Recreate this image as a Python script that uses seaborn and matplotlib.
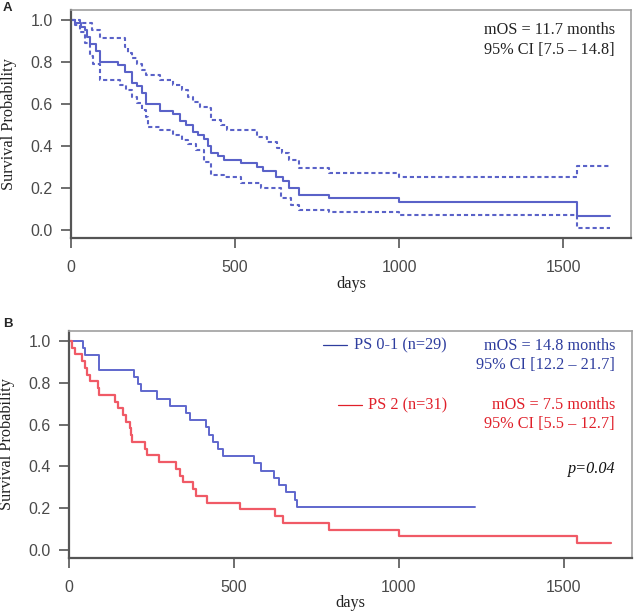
import numpy as np
import pandas as pd
import seaborn as sns
import matplotlib.pyplot as plt

# panel A: all patients, KM estimate with 95% CI
a_days = [0, 12, 30, 43, 50, 58, 75, 88, 144, 164, 185, 200, 215, 230, 271, 311, 332, 352, 372,
          387, 405, 418, 426, 448, 467, 518, 568, 585, 626, 645, 665, 694, 786, 1000, 1541, 1643]
a_surv = [1.0, 0.983, 0.967, 0.95, 0.917, 0.883, 0.85, 0.80, 0.783, 0.75, 0.70, 0.683, 0.65, 0.60,
          0.567, 0.55, 0.517, 0.50, 0.467, 0.45, 0.433, 0.40, 0.367, 0.35, 0.333, 0.317, 0.30,
          0.283, 0.25, 0.233, 0.20, 0.167, 0.15, 0.133, 0.067, 0.067]

up_days = [0, 27, 63, 88, 164, 175, 185, 200, 215, 230, 271, 311, 337, 357, 372, 392, 418, 426,
           456, 476, 568, 598, 629, 644, 665, 694, 786, 1000, 1541, 1643]
up_surv = [1.0, 0.987, 0.95, 0.913, 0.87, 0.84, 0.817, 0.79, 0.76, 0.738, 0.714, 0.69, 0.667,
           0.635, 0.61, 0.587, 0.58, 0.524, 0.50, 0.476, 0.444, 0.42, 0.39, 0.368, 0.333, 0.294,
           0.273, 0.254, 0.306, 0.306]

lo_days = [0, 12, 27, 43, 58, 68, 88, 149, 169, 185, 200, 215, 230, 235, 271, 311, 337, 357, 382,
           405, 426, 467, 518, 579, 640, 670, 694, 786, 1000, 1541, 1643]
lo_surv = [1.0, 0.976, 0.94, 0.89, 0.83, 0.79, 0.714, 0.69, 0.667, 0.635, 0.603, 0.571, 0.54,
           0.49, 0.476, 0.452, 0.43, 0.41, 0.38, 0.325, 0.262, 0.25, 0.222, 0.198, 0.151, 0.119,
           0.095, 0.084, 0.071, 0.011, 0.011]

# panel B: by performance status
blue_days = [0, 43, 47, 91, 198, 210, 218, 268, 305, 356, 366, 416, 424, 436, 451, 467, 562,
             583, 623, 638, 659, 686, 690, 1232]
blue_surv = [1.0, 0.966, 0.931, 0.862, 0.828, 0.793, 0.759, 0.724, 0.690, 0.655, 0.621, 0.586,
             0.552, 0.517, 0.483, 0.448, 0.414, 0.379, 0.345, 0.310, 0.276, 0.241, 0.207, 0.207]

red_days = [0, 8, 18, 38, 48, 55, 63, 88, 91, 139, 149, 164, 174, 184, 187, 190, 230, 235, 273,
            323, 336, 346, 375, 386, 418, 517, 624, 650, 787, 1001, 1541, 1644]
red_surv = [1.0, 0.968, 0.935, 0.903, 0.871, 0.839, 0.806, 0.774, 0.742, 0.710, 0.677, 0.645,
            0.613, 0.581, 0.548, 0.516, 0.484, 0.452, 0.419, 0.387, 0.355, 0.323, 0.290, 0.258,
            0.226, 0.194, 0.161, 0.129, 0.097, 0.065, 0.032, 0.032]

y_ticks = [0.0, 0.2, 0.4, 0.6, 0.8, 1.0]
x_ticks = [0, 500, 1000, 1500]

sns.set_style("white")
plt.rcParams['font.family'] = ['Liberation Serif', 'DejaVu Serif']

A_COL = "#5a62c8"
B_BLUE = "#5f67cd"
B_RED = "#f05a66"
T_BLUE = "#2e3d9e"
T_RED = "#e0202a"

fig = plt.figure(figsize=(6.36, 6.12), dpi=100)
axA = fig.add_axes([71 / 636, 1 - 238 / 612, 560 / 636, 228 / 612])
axB = fig.add_axes([69 / 636, 1 - 558 / 612, 563 / 636, 227 / 612])


def style_axes(ax, lab_x, lab_y):
    ax.set_xlim(0, 1707)
    ax.set_ylim(-0.038, 1.047)
    ax.set_xticks(x_ticks)
    ax.set_yticks(y_ticks)
    ax.set_yticklabels([f"{v:.1f}" for v in y_ticks])
    for lab in ax.get_xticklabels() + ax.get_yticklabels():
        lab.set_family(['Liberation Sans', 'DejaVu Sans'])
    ax.tick_params(axis='both', direction='out', length=7, width=1.2, color='#555555',
                   labelsize=11.5, labelcolor='#4a4a4a', pad=6, left=True, bottom=True)
    ax.tick_params(axis='x', pad=9)
    ax.spines['left'].set_color('#555555')
    ax.spines['bottom'].set_color('#555555')
    ax.spines['left'].set_linewidth(1.6)
    ax.spines['bottom'].set_linewidth(1.6)
    ax.spines['top'].set_color('#a0a0a0')
    ax.spines['right'].set_color('#a0a0a0')
    ax.spines['top'].set_linewidth(1.2)
    ax.spines['right'].set_linewidth(1.2)
    ax.set_xlabel("days", fontsize=11.7, color='#222222')
    ax.set_ylabel("Survival Probability", fontsize=11.7, color='#222222')
    ax.xaxis.set_label_coords(0.5, lab_x)
    ax.yaxis.set_label_coords(lab_y, 0.5)
    ax.xaxis.label.set_va('top')


# ---- panel A
sns.lineplot(x=a_days, y=a_surv, ax=axA, color=A_COL, lw=1.5, drawstyle='steps-post',
             estimator=None)
sns.lineplot(x=up_days, y=up_surv, ax=axA, color=A_COL, lw=1.5, drawstyle='steps-post',
             estimator=None, linestyle=(0, (2, 1.4)))
sns.lineplot(x=lo_days, y=lo_surv, ax=axA, color=A_COL, lw=1.5, drawstyle='steps-post',
             estimator=None, linestyle=(0, (2, 1.4)))
style_axes(axA, -0.165, -0.097)
axA.text(0.971, 0.912, "mOS = 11.7 months", transform=axA.transAxes, ha='right', va='center',
         fontsize=11.7, color='#222222')
axA.text(0.971, 0.825, "95% CI [7.5 \u2013 14.8]", transform=axA.transAxes, ha='right',
         va='center', fontsize=11.7, color='#222222')

# ---- panel B
sns.lineplot(x=blue_days, y=blue_surv, ax=axB, color=B_BLUE, lw=1.4, drawstyle='steps-post',
             estimator=None)
sns.lineplot(x=red_days, y=red_surv, ax=axB, color=B_RED, lw=1.6, drawstyle='steps-post',
             estimator=None)
style_axes(axB, -0.165, -0.096)

# legend keys
axB.plot([0.451, 0.493], [0.940, 0.940], transform=axB.transAxes, color=T_BLUE, lw=0.9)
axB.plot([0.477, 0.520], [0.676, 0.676], transform=axB.transAxes, color=T_RED, lw=0.9)
axB.text(0.671, 0.936, "PS 0-1 (n=29)", transform=axB.transAxes, ha='right', va='center',
         fontsize=11.7, color=T_BLUE)
axB.text(0.671, 0.672, "PS 2 (n=31)", transform=axB.transAxes, ha='right', va='center',
         fontsize=11.7, color=T_RED)
axB.text(0.970, 0.936, "mOS = 14.8 months", transform=axB.transAxes, ha='right', va='center',
         fontsize=11.7, color=T_BLUE)
axB.text(0.970, 0.850, "95% CI [12.2 \u2013 21.7]", transform=axB.transAxes, ha='right',
         va='center', fontsize=11.7, color=T_BLUE)
axB.text(0.970, 0.672, "mOS = 7.5 months", transform=axB.transAxes, ha='right', va='center',
         fontsize=11.7, color=T_RED)
axB.text(0.970, 0.591, "95% CI [5.5 \u2013 12.7]", transform=axB.transAxes, ha='right',
         va='center', fontsize=11.7, color=T_RED)
axB.text(0.970, 0.391, "p=0.04", transform=axB.transAxes, ha='right', va='center',
         fontsize=11.7, style='italic', color='#111111')

fig.text(3 / 636, 1 - 8 / 612, "A", fontsize=9.5, fontweight='bold', ha='left', va='center',
         family=['Liberation Sans', 'DejaVu Sans'])
fig.text(3 / 636, 1 - 324 / 612, "B", fontsize=9.5, fontweight='bold', ha='left', va='center',
         family=['Liberation Sans', 'DejaVu Sans'])

fig.savefig("out.png", dpi=100)
plt.close(fig)
